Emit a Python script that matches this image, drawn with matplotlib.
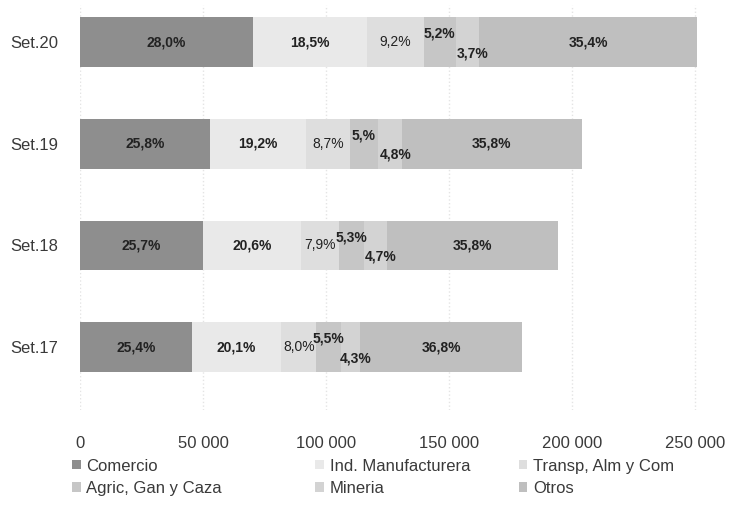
import matplotlib
matplotlib.use('Agg')
import matplotlib.pyplot as plt
import numpy as np

plt.rcParams['font.family'] = ['Liberation Sans Narrow', 'Liberation Sans', 'DejaVu Sans']

# data (bottom to top)
periods = ['Set.17', 'Set.18', 'Set.19', 'Set.20']
totals = [179700, 194300, 204500, 251000]
sectors = ['Comercio', 'Ind. Manufacturera', 'Transp, Alm y Com',
           'Agric, Gan y Caza', 'Mineria', 'Otros']
comercio = [25.4, 25.7, 25.8, 28.0]
ind_manuf = [20.1, 20.6, 19.2, 18.5]
transp = [8.0, 7.9, 8.7, 9.2]
agric = [5.5, 5.3, 5.5, 5.2]
mineria = [4.3, 4.7, 4.8, 3.7]
otros = [36.8, 35.8, 35.8, 35.4]
# labels as printed in the source (one is truncated there)
agric_labels = ['5,5%', '5,3%', '5,%', '5,2%']

shares = [comercio, ind_manuf, transp, agric, mineria, otros]
colors = ['#8e8e8e', '#e9e9e9', '#dedede', '#c6c6c6', '#d3d3d3', '#bfbfbf']
txt_col = '#3a3a3a'

fig = plt.figure(figsize=(7.3, 5.09), dpi=100)
ax = fig.add_axes([0.1096, 0.1945, 0.859, 0.7957])

y = np.arange(len(periods))
left = np.zeros(len(periods))
bars = []
for i, (name, s) in enumerate(zip(sectors, shares)):
    vals = np.array(totals) * np.array(s) / 100.0
    b = ax.barh(y, vals, left=left, height=0.49, color=colors[i], label=name,
                edgecolor='none', zorder=2)
    bars.append(b)
    for j in range(len(periods)):
        cx = left[j] + vals[j] / 2
        if i == 3:
            txt, dx, dy = agric_labels[j], 0, 6
        elif i == 4:
            txt, dx, dy = f'{s[j]:.1f}%'.replace('.', ','), 4, -8
        else:
            txt, dx, dy = f'{s[j]:.1f}%'.replace('.', ','), 0, 0
        weight = 'normal' if i == 2 else 'bold'
        ax.annotate(txt, (cx, y[j]), xytext=(dx, dy), textcoords='offset points',
                    ha='center', va='center', fontsize=10, fontweight=weight,
                    color='#222222', zorder=3)
    left = left + vals

ax.set_xlim(0, 255000)
ax.set_ylim(-0.617, 3.364)
ax.set_yticks(y)
ax.set_yticklabels(periods, fontsize=12, color=txt_col)
ax.set_xticks(np.arange(0, 250001, 50000))
ax.set_xticklabels(['0', '50 000', '100 000', '150 000', '200 000', '250 000'],
                   fontsize=12, color=txt_col)
ax.tick_params(axis='both', length=0)
ax.tick_params(axis='x', pad=19)
ax.tick_params(axis='y', pad=16)
ax.grid(axis='x', color='#e4e4e4', linestyle=':', linewidth=1, zorder=0)
for sp in ax.spines.values():
    sp.set_visible(False)

# legend: three columns of two entries, placed one by one
col_x = [0.099, 0.432, 0.711]
for k in range(3):
    hs = [bars[k], bars[k + 3]]
    ls = [sectors[k], sectors[k + 3]]
    fig.legend(hs, ls, loc='upper left', bbox_to_anchor=(col_x[k], 0.099),
               frameon=False, fontsize=12, handlelength=0.5, handleheight=0.5,
               handletextpad=0.35, labelspacing=0.45, labelcolor=txt_col,
               borderaxespad=0, borderpad=0)

fig.savefig('out.png', dpi=100)
